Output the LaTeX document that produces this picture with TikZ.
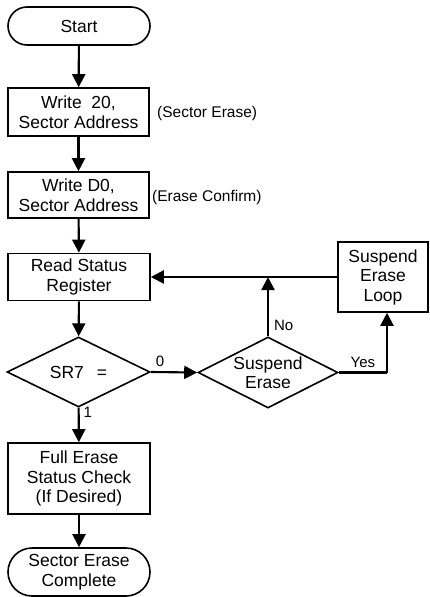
\documentclass[tikz,border=0pt]{standalone}
\usepackage{fontspec}
\setmainfont{Liberation Sans}
\usetikzlibrary{shapes.geometric,arrows.meta}
\begin{document}
\begin{tikzpicture}[x=1pt,y=-1pt,
  boxtext/.style={font=\fontsize{17.5}{19.5}\selectfont, align=center, inner sep=0pt},
  procbox/.style={boxtext, draw, line width=1.6pt, rectangle},
  termbox/.style={boxtext, draw, line width=1.6pt, rectangle, rounded corners=#1},
  decbox/.style={boxtext, draw, line width=1.6pt, diamond, shape aspect=2},
  note/.style={font=\fontsize{15.5}{18}\selectfont, inner sep=0pt},
  lbl/.style={font=\fontsize{15}{17}\selectfont, inner sep=0pt},
  conn/.style={line width=2.1pt, -{Triangle[length=13pt,width=13pt]}},
  plain/.style={line width=2.1pt}
]
\useasboundingbox (0,0) rectangle (429,597);

\node[termbox=19pt, minimum width=142pt, minimum height=38pt] (start) at (79,26) {Start};
\node[procbox, minimum width=141pt, minimum height=48pt] (w20) at (78.5,112) {Write\ \ 20,\\Sector Address};
\node[note, anchor=west] (n1) at (157,113) {(Sector Erase)};
\node[procbox, minimum width=141pt, minimum height=46pt] (wd0) at (78.5,195) {Write D0,\\Sector Address};
\node[note, anchor=west] (n2) at (152,197) {(Erase Confirm)};
\node[procbox, minimum width=142pt, minimum height=47pt] (rsr) at (79,277) {Read Status\\Register};
\node[decbox, minimum width=143pt, minimum height=70pt] (sr7) at (78.5,372) {SR7\hspace{13pt}=};
\node[decbox, minimum width=140pt, minimum height=71pt] (se) at (268,372.5) {Suspend\\Erase};
\node[procbox, minimum width=90pt, minimum height=70pt] (sel) at (383,277) {Suspend\\Erase\\Loop};
\node[procbox, minimum width=142pt, minimum height=71pt] (full) at (79,478.5) {Full Erase\\Status Check\\(If Desired)};
\node[termbox=24pt, minimum width=142pt, minimum height=48pt] (end) at (79,572) {Sector Erase\\Complete};

\coordinate (yesturn) at ([xshift=4pt]sel.south |- se.east);
\coordinate (nojoin) at (se.north |- sel.west);

\draw[conn] (start) -- (w20);
\draw[conn] (w20) -- (wd0);
\draw[conn] (wd0) -- (rsr);
\draw[conn] (rsr) -- (sr7);
\draw[conn] (sr7) -- (full) node[lbl, pos=0.12, right=4pt] (l1) {1};
\draw[conn] (full) -- (end);
\draw[conn] (sr7.east) -- (se.west) node[lbl, pos=0.2, above=4pt] (l0) {0};
\draw[conn] (se.north) -- (nojoin) node[lbl, pos=0.18, right=5pt] (lno) {No};
\draw[conn] (sel.west) -- (sel.west -| rsr.east);
\draw[plain] (se.east) -- (yesturn) node[lbl, midway, above=4pt] (lyes) {Yes};
\draw[conn] (yesturn) -- ([xshift=4pt]sel.south);
\end{tikzpicture}
\end{document}
